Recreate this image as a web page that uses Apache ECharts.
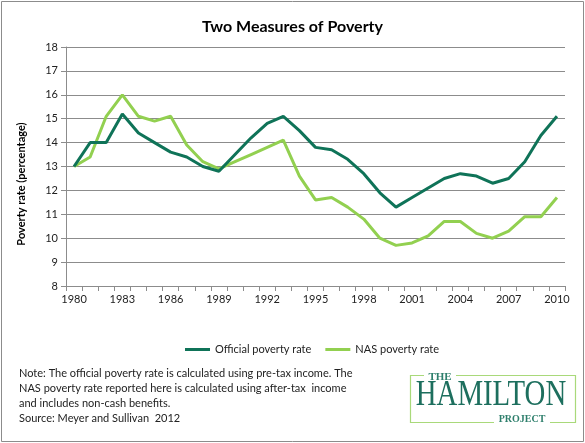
<!DOCTYPE html>
<html>
<head>
<meta charset="utf-8">
<script src="https://cdn.jsdelivr.net/npm/echarts@6/dist/echarts.min.js"></script>
<style>
html,body{margin:0;padding:0;background:#fff;}
#chart{width:585px;height:443px;}
</style>
</head>
<body>
<div id="chart"></div>
<script>
var years = ['1980','1981','1982','1983','1984','1985','1986','1987','1988','1989','1990','1991','1992','1993','1994','1995','1996','1997','1998','1999','2000','2001','2002','2003','2004','2005','2006','2007','2008','2009','2010'];
var officialRate = [13.0,14.0,14.0,15.2,14.4,14.0,13.6,13.4,13.0,12.8,13.5,14.2,14.8,15.1,14.5,13.8,13.7,13.3,12.7,11.9,11.3,11.7,12.1,12.5,12.7,12.6,12.3,12.5,13.2,14.3,15.1];
var nasRate = [13.0,13.4,15.1,16.0,15.1,14.9,15.1,13.9,13.2,12.9,13.2,13.5,13.8,14.1,12.6,11.6,11.7,11.3,10.8,10.0,9.7,9.8,10.1,10.7,10.7,10.2,10.0,10.3,10.9,10.9,11.7];
var seriesNames = ['Official poverty rate','NAS poverty rate'];
var titleText = 'Two Measures of Poverty';
var yAxisTitle = 'Poverty rate (percentage)';
var noteLines = [
  'Note: The official poverty rate is calculated using pre-tax income. The',
  'NAS poverty rate reported here is calculated using after-tax  income',
  'and includes non-cash benefits.',
  'Source: Meyer and Sullivan  2012'
];

var FONT = 'Lato, "Open Sans", sans-serif';
var DARK = '#0F7358';
var LIGHT = '#92D050';
var GRID = '#8C8C8C';
var TEXT = '#222222';
var SERIF = '"Liberation Serif", "DejaVu Serif", serif';

var chart = echarts.init(document.getElementById('chart'), null, {renderer:'canvas'});

var graphics = [
  {type:'rect', shape:{x:1.5,y:1.5,width:582,height:440}, style:{fill:'none', stroke:'#8C8C8C', lineWidth:1}, silent:true, z:-10},
  {type:'text', x:21, y:184, rotation:Math.PI/2, style:{text:yAxisTitle, font:'bold 11px '+FONT, fill:'#000', textAlign:'center', textVerticalAlign:'middle'}},
  // logo
  {type:'rect', shape:{x:410.5,y:375.5,width:165,height:47}, style:{fill:'none', stroke:'#A9D97A', lineWidth:1.2}},
  {type:'rect', shape:{x:424,y:370,width:32,height:12}, style:{fill:'#fff'}},
  {type:'text', x:440, y:377, style:{text:'THE', font:'bold 11px '+SERIF, fill:'#2E7F6C', textAlign:'center', textVerticalAlign:'middle'}},
  {type:'text', x:491, y:396, scaleX:0.8, style:{text:'HAMILTON', font:'36px '+SERIF, fill:'#1D6F5E', textAlign:'center', textVerticalAlign:'middle'}},
  {type:'rect', shape:{x:494,y:414,width:56,height:10}, style:{fill:'#fff'}},
  {type:'text', x:522, y:419, style:{text:'PROJECT', font:'bold 10px '+SERIF, fill:'#2E7F6C', textAlign:'center', textVerticalAlign:'middle'}}
];
noteLines.forEach(function(t,i){
  graphics.push({type:'text', x:19, y:373 + i*15.2, style:{text:t, font:'11px '+FONT, fill:TEXT, textVerticalAlign:'middle'}});
});

chart.setOption({
  animation:false,
  backgroundColor:'#ffffff',
  title:{text:titleText, left:'center', top:14, textStyle:{fontFamily:FONT, fontSize:16, fontWeight:'bold', color:'#000'}},
  grid:{left:66, right:20, top:47, bottom:157, containLabel:false},
  legend:{
    left:180, top:339, itemWidth:25, itemHeight:3, itemGap:14, icon:'rect',
    textStyle:{fontFamily:FONT, fontSize:11, color:TEXT},
    data:seriesNames
  },
  xAxis:{
    type:'category', data:years, boundaryGap:true,
    axisLine:{lineStyle:{color:GRID, width:1}},
    axisTick:{show:true, interval:0, length:5, lineStyle:{color:GRID}},
    axisLabel:{interval:2, fontFamily:FONT, fontSize:11, color:TEXT, margin:8},
    splitLine:{show:false}
  },
  yAxis:{
    type:'value', min:8, max:18, interval:1,
    axisLine:{show:true, lineStyle:{color:GRID, width:1}},
    axisTick:{show:true, length:5, lineStyle:{color:GRID}},
    axisLabel:{fontFamily:FONT, fontSize:11, color:TEXT, margin:8},
    splitLine:{show:true, lineStyle:{color:GRID, width:1}}
  },
  series:[
    {name:seriesNames[0], type:'line', data:officialRate, showSymbol:false, symbol:'none', lineStyle:{color:DARK, width:3}, itemStyle:{color:DARK}, z:3},
    {name:seriesNames[1], type:'line', data:nasRate, showSymbol:false, symbol:'none', lineStyle:{color:LIGHT, width:3}, itemStyle:{color:LIGHT}, z:2}
  ],
  graphic:graphics
});
</script>
</body>
</html>
